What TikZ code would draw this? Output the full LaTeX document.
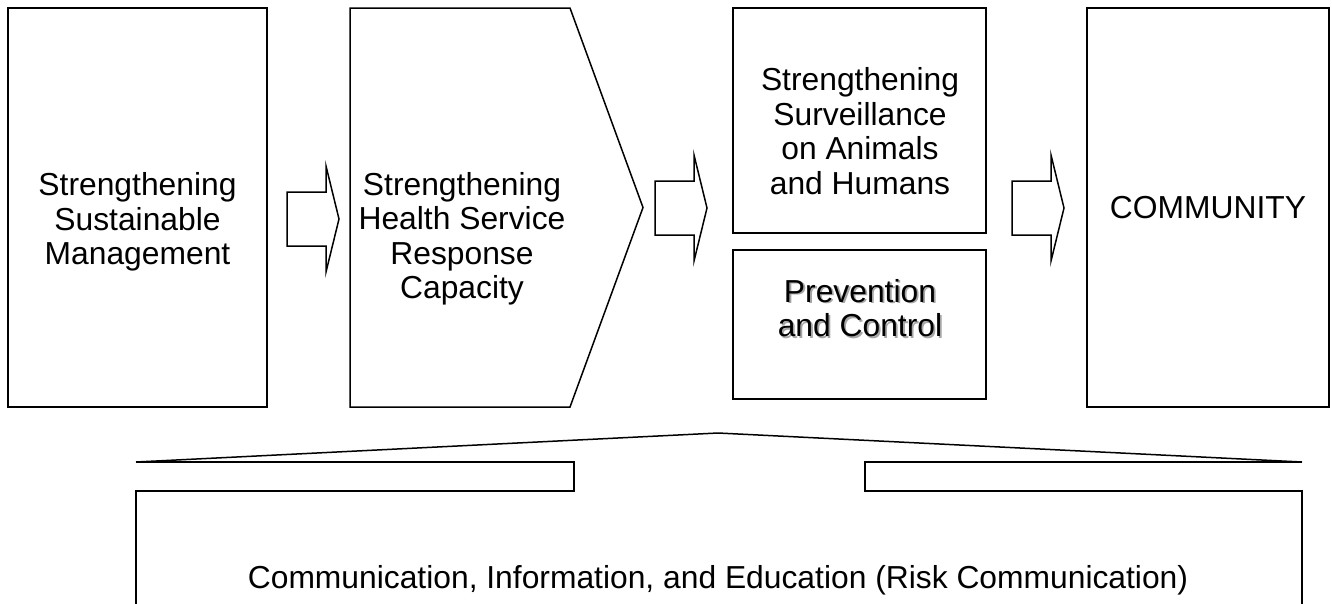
\documentclass[tikz,border=0pt]{standalone}
\usepackage{fontspec}
\setmainfont{Liberation Sans}
\begin{document}
\begin{tikzpicture}[x=1pt,y=-1pt,
  outline/.style={draw=black,line width=1.5pt,line join=miter},
  label/.style={font=\fontsize{31.8}{34.5}\selectfont,align=center,inner sep=0pt,text=black}]
\useasboundingbox (0,0) rectangle (1332,603);
\fill[white] (0,0) rectangle (1332,603);
% boxes
\draw[outline] (8,8) rectangle (267,407);
\node[label] (mgmt) at (137.5,222) {Strengthening\\Sustainable\\Management};
\draw[outline] (350,8) -- (570,8) -- (643,207.5) -- (570,407) -- (350,407) -- cycle;
\node[label] (health) at (462,239) {Strengthening\\Health Service\\Response\\Capacity};
\draw[outline] (733,8) rectangle (986,233);
\node[label] (surv) at (860,131) {Strengthening\\Surveillance\\on Animals\\and Humans};
\draw[outline] (733,250) rectangle (986,399);
\node[label,text=black!35] at (861.8,309.8) {Prevention\\and Control};
\node[label] (prev) at (860,308) {Prevention\\and Control};
\draw[outline] (1087,8) rectangle (1329,407);
\node[label] (comm) at (1208,208) {COMMUNITY};
% block arrows
\draw[outline] (287,192) -- (326,192) -- (326,166) -- (339,219) -- (326,272) -- (326,246) -- (287,246) -- cycle;
\draw[outline] (655,181) -- (694,181) -- (694,155) -- (707,208) -- (694,261) -- (694,235) -- (655,235) -- cycle;
\draw[outline] (1012,181) -- (1051,181) -- (1051,155) -- (1064,208) -- (1051,261) -- (1051,235) -- (1012,235) -- cycle;
% bottom callout
\draw[outline] (136,462) -- (718,433) -- (1302,462);
\draw[outline] (136,462) -- (574,462) -- (574,491) -- (136,491) -- (136,610);
\draw[outline] (1302,462) -- (865,462) -- (865,491) -- (1302,491) -- (1302,610);
\node[label] (cie) at (718,580) {Communication, Information, and Education (Risk Communication)};
\end{tikzpicture}
\end{document}
